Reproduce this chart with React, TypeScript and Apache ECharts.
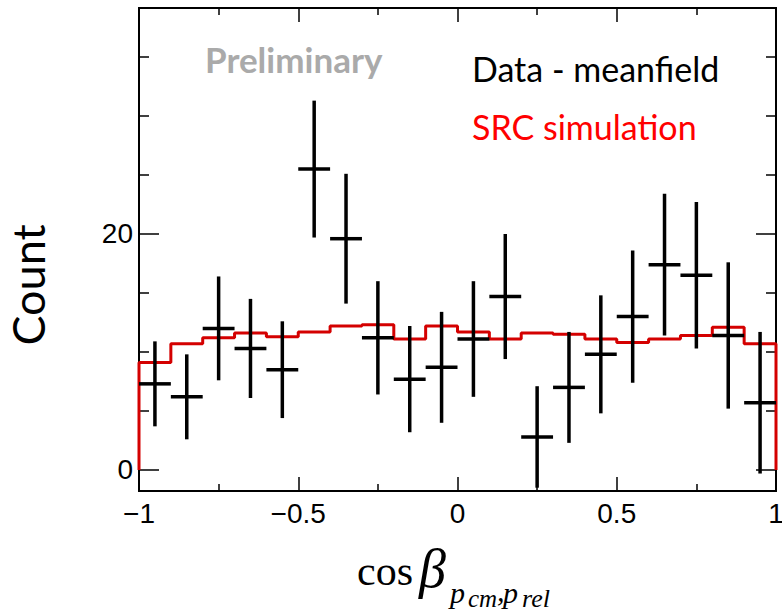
import React, { useEffect, useRef } from "react";
import * as echarts from "echarts";

// Bin centres of cos(beta) histogram (20 bins of width 0.1)
const binCenters = [
  -0.95, -0.85, -0.75, -0.65, -0.55, -0.45, -0.35, -0.25, -0.15, -0.05,
  0.05, 0.15, 0.25, 0.35, 0.45, 0.55, 0.65, 0.75, 0.85, 0.95,
];
const binHalfWidth = 0.05;

// Data - meanfield counts and their errors
const dataValues = [
  7.3, 6.2, 12.0, 10.3, 8.5, 25.5, 19.6, 11.2, 7.7, 8.7,
  11.1, 14.7, 2.8, 7.0, 9.8, 13.0, 17.4, 16.5, 11.4, 5.7,
];
const dataErrors = [
  3.6, 3.6, 4.4, 4.2, 4.1, 5.8, 5.5, 4.8, 4.5, 4.7,
  4.9, 5.3, 4.3, 4.7, 5.0, 5.6, 6.0, 6.2, 6.2, 6.0,
];

// SRC simulation histogram contents
const simValues = [
  9.1, 10.7, 11.2, 11.6, 11.3, 11.7, 12.2, 12.3, 11.1, 12.2,
  11.7, 11.1, 11.6, 11.5, 11.1, 10.8, 11.1, 11.4, 12.1, 10.7,
];

const xMin = -1;
const xMax = 1;
const yMin = -1.78;
const yMax = 39.15;
const yMajorTicks = [0, 20];
const yMinorTicks = [5, 10, 15, 25, 30, 35];
const yTickLabels = [0, 20];

const fmtX = (v: number) => (v < 0 ? "\u2212" + Math.abs(v) : String(v));

export default function App() {
  const ref = useRef<HTMLDivElement>(null);

  useEffect(() => {
    document.body.style.margin = "0";
    const chart = echarts.init(ref.current!, null, { renderer: "svg" });

    // Step outline of the simulation histogram from its bin edges
    const stepData: number[][] = [[xMin, 0]];
    binCenters.forEach((c, i) => {
      stepData.push([c - binHalfWidth, simValues[i]]);
      stepData.push([c + binHalfWidth, simValues[i]]);
    });
    stepData.push([xMax, 0]);

    const errData = binCenters.map((c, i) => [c, dataValues[i], dataErrors[i]]);

    const axisLine = { show: true, onZero: false, lineStyle: { color: "#000", width: 2 } };
    const tickStyle = { color: "#000", width: 1.5 };
    const labelFont = { fontFamily: "Liberation Sans", fontSize: 28, color: "#000" };

    const yAxisBase = (position: "left" | "right", ticks: number[], len: number, labels: boolean) => ({
      type: "value",
      position,
      min: yMin,
      max: yMax,
      splitLine: { show: false },
      axisLine,
      axisTick: { show: true, inside: true, length: len, lineStyle: tickStyle, customValues: ticks },
      axisLabel: labels
        ? { show: true, ...labelFont, margin: 6, customValues: yTickLabels }
        : { show: false },
    });

    const xAxisBase = (position: "bottom" | "top", labels: boolean) => ({
      type: "value",
      position,
      min: xMin,
      max: xMax,
      interval: 0.5,
      splitLine: { show: false },
      axisLine,
      axisTick: { show: true, inside: true, length: 14, lineStyle: tickStyle },
      minorTick: { show: true, splitNumber: 2, length: 7, lineStyle: tickStyle },
      axisLabel: labels ? { show: true, ...labelFont, margin: 8, formatter: fmtX } : { show: false },
    });

    const serif = "Liberation Serif";
    const titlePart = (text: string, x: number, y: number, size: number, italic: boolean) => ({
      type: "text",
      x,
      y,
      style: {
        text,
        fontFamily: serif,
        fontStyle: italic ? "italic" : "normal",
        fontSize: size,
        fill: "#000",
        verticalAlign: "bottom",
      },
    });

    chart.setOption({
      animation: false,
      backgroundColor: "#fff",
      grid: { left: 139, right: 6, top: 8, bottom: 122, containLabel: false, outerBoundsMode: "none" },
      xAxis: [xAxisBase("bottom", true), xAxisBase("top", false)],
      yAxis: [
        yAxisBase("left", yMajorTicks, 20, true),
        yAxisBase("left", yMinorTicks, 10, false),
        yAxisBase("right", yMajorTicks, 20, false),
        yAxisBase("right", yMinorTicks, 10, false),
      ],
      series: [
        {
          name: "SRC simulation",
          type: "line",
          data: stepData,
          showSymbol: false,
          symbol: "none",
          lineStyle: { color: "#d40000", width: 3 },
          z: 2,
        },
        {
          name: "Data - meanfield",
          type: "custom",
          data: errData,
          z: 3,
          renderItem: (params: any, api: any) => {
            const x = api.value(0);
            const y = api.value(1);
            const e = api.value(2);
            const c = api.coord([x, y]);
            const top = api.coord([x, y + e]);
            const bot = api.coord([x, y - e]);
            const left = api.coord([x - binHalfWidth, y]);
            const right = api.coord([x + binHalfWidth, y]);
            const style = { stroke: "#000", lineWidth: 3.5 };
            return {
              type: "group",
              children: [
                { type: "line", shape: { x1: c[0], y1: top[1], x2: c[0], y2: bot[1] }, style },
                { type: "line", shape: { x1: left[0], y1: c[1], x2: right[0], y2: c[1] }, style },
              ],
            };
          },
        },
      ],
      graphic: [
        {
          type: "text",
          left: 205,
          top: 41,
          style: { text: "Preliminary", fontFamily: "Lato", fontWeight: "bold", fontSize: 35, fill: "#aaaaaa" },
        },
        {
          type: "text",
          left: 472,
          top: 51,
          style: { text: "Data - meanfield", fontFamily: "Lato", fontSize: 34, fill: "#000" },
        },
        {
          type: "text",
          left: 472,
          top: 109,
          style: { text: "SRC simulation", fontFamily: "Lato", fontSize: 34, fill: "#ff0000" },
        },
        {
          type: "text",
          x: 28,
          y: 285,
          rotation: Math.PI / 2,
          style: {
            text: "Count",
            fontFamily: "Lato",
            fontSize: 45,
            fill: "#000",
            align: "center",
            verticalAlign: "middle",
          },
        },
        {
          type: "group",
          children: [
            titlePart("cos", 357, 592, 42, false),
            titlePart("β", 419, 596, 54, true),
            titlePart("p", 450, 607, 30, true),
            titlePart("cm", 468, 611, 25, true),
            titlePart(",", 497, 605, 30, true),
            titlePart("p", 503, 607, 30, true),
            titlePart("rel", 522, 611, 26, true),
          ],
        },
      ],
    });

    return () => chart.dispose();
  }, []);

  return <div ref={ref} style={{ width: 782, height: 613 }} />;
}
